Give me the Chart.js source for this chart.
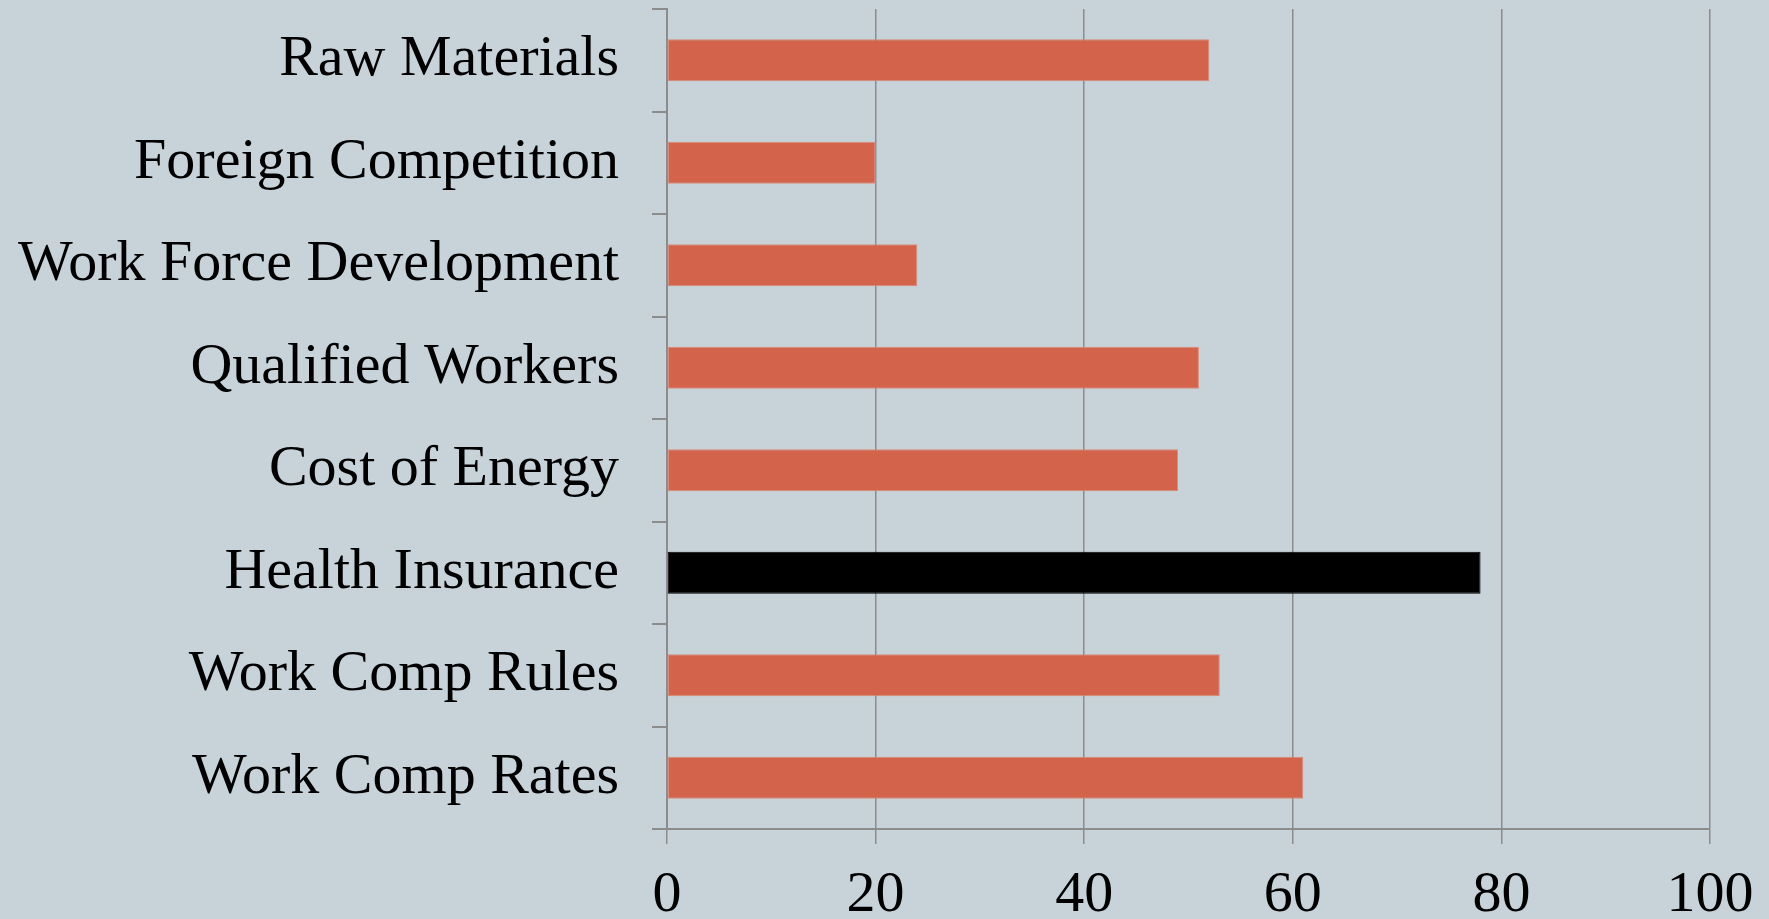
<!DOCTYPE html>
<html>
<head>
<meta charset="utf-8">
<script src="https://cdn.jsdelivr.net/npm/chart.js@4"></script>
<style>
  html, body { margin: 0; padding: 0; background: #c7d3d9; }
  #wrap { width: 1769px; height: 919px; }
</style>
</head>
<body>
<div id="wrap"><canvas id="chart" width="1769" height="919"></canvas></div>
<script>
const categories = ['Raw Materials', 'Foreign Competition', 'Work Force Development', 'Qualified Workers',
  'Cost of Energy', 'Health Insurance', 'Work Comp Rules', 'Work Comp Rates']
const values = [52, 20, 24, 51, 49, 78, 53, 61]
const xTicks = [0, 20, 40, 60, 80, 100]
const highlight = 'Health Insurance'

const gridGray = '#8c8c8c'
const font = { family: '"Liberation Serif", "DejaVu Serif", serif', size: 58 }

const ctx = document.getElementById('chart').getContext('2d')
new Chart(ctx, {
  type: 'bar',
  data: {
    labels: categories,
    datasets: [{
      data: values,
      backgroundColor: categories.map(c => c === highlight ? '#000000' : '#d4634b'),
      borderColor: categories.map(c => c === highlight ? '#000000' : '#dc8a78'),
      borderWidth: 1,
      borderSkipped: false,
      barPercentage: 0.41,
      categoryPercentage: 1
    }]
  },
  options: {
    indexAxis: 'y',
    responsive: false,
    animation: false,
    layout: { padding: { top: 9, right: 59, left: 0, bottom: 0 } },
    plugins: { legend: { display: false }, tooltip: { enabled: false } },
    scales: {
      x: {
        type: 'linear',
        min: xTicks[0],
        max: xTicks[xTicks.length - 1],
        afterBuildTicks: axis => { axis.ticks = xTicks.map(v => ({ value: v })) },
        afterFit: axis => {
          axis.height = 90
          axis.paddingLeft = 0
          axis.paddingRight = 0
        },
        grid: { color: gridGray, lineWidth: 1.5, tickLength: 15, drawTicks: true },
        border: { display: true, color: gridGray, width: 2 },
        ticks: { color: '#000', font: font, padding: 17, maxRotation: 0 }
      },
      y: {
        type: 'category',
        afterFit: axis => {
          axis.width = 667
          axis.paddingTop = 0
          axis.paddingBottom = 0
        },
        grid: { drawOnChartArea: false, drawTicks: true, tickLength: 15, color: gridGray, lineWidth: 2, offset: true },
        border: { display: true, color: gridGray, width: 2 },
        ticks: { color: '#000', font: font, padding: 33, autoSkip: false }
      }
    }
  }
})
</script>
</body>
</html>
